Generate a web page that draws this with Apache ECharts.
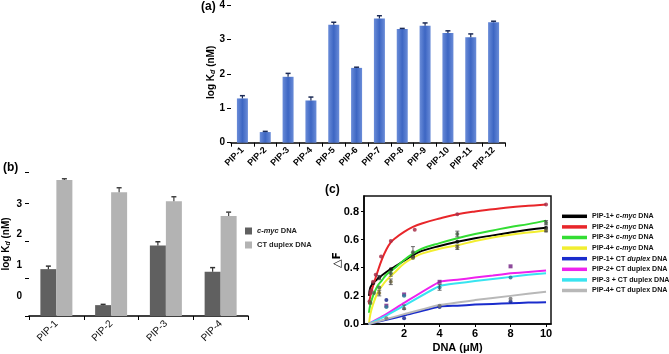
<!DOCTYPE html>
<html>
<head>
<meta charset="utf-8">
<script src="https://cdn.jsdelivr.net/npm/echarts@6.0.0/dist/echarts.min.js"></script>
<style>
  html, body { margin: 0; padding: 0; background: #fff; }
  #chart { width: 669px; height: 354px; }
</style>
</head>
<body>
<div id="chart"></div>
<script>
// panel (a)
const pipA = ["PIP-1", "PIP-2", "PIP-3", "PIP-4", "PIP-5", "PIP-6", "PIP-7", "PIP-8", "PIP-9", "PIP-10", "PIP-11", "PIP-12"];
const kdA = [1.29, 0.31, 1.92, 1.23, 3.44, 2.18, 3.62, 3.31, 3.41, 3.2, 3.07, 3.51];
const kdAErr = [0.08, 0.02, 0.1, 0.1, 0.07, 0.02, 0.08, 0.02, 0.08, 0.06, 0.1, 0.03];

// panel (b)
const pipB = ["PIP-1", "PIP-2", "PIP-3", "PIP-4"];
const mycB = [1.25, 0.29, 1.88, 1.18];
const mycBErr = [0.08, 0.02, 0.1, 0.11];
const ctB = [3.63, 3.3, 3.06, 2.67];
const ctBErr = [0.03, 0.12, 0.12, 0.1];
const tickLabelsB = [0, 1, 2, 3];

// panel (c) fitted curves, [DNA uM, dF]
const fitMyc1 = [[0.02, 0.2], [0.1, 0.26], [0.25, 0.29], [0.5, 0.32], [1, 0.37], [1.5, 0.41], [2, 0.45], [2.5, 0.49], [3, 0.52], [4, 0.555], [5, 0.585], [6, 0.61], [7, 0.63], [8, 0.65], [9, 0.67], [10, 0.685]];
const fitMyc2 = [[0.02, 0.14], [0.1, 0.2], [0.25, 0.27], [0.5, 0.37], [0.75, 0.46], [1, 0.53], [1.25, 0.58], [1.5, 0.61], [2, 0.655], [2.5, 0.69], [3, 0.715], [4, 0.75], [5, 0.78], [6, 0.8], [7, 0.815], [8, 0.83], [9, 0.84], [10, 0.85]];
const fitMyc3 = [[0.02, 0.08], [0.1, 0.14], [0.25, 0.2], [0.5, 0.27], [0.75, 0.31], [1, 0.35], [1.5, 0.4], [2, 0.455], [2.5, 0.5], [3, 0.535], [4, 0.575], [5, 0.61], [6, 0.64], [7, 0.665], [8, 0.69], [9, 0.71], [10, 0.735]];
const fitMyc4 = [[0.02, 0.0], [0.1, 0.07], [0.25, 0.14], [0.5, 0.22], [0.75, 0.27], [1, 0.31], [1.5, 0.37], [2, 0.43], [2.5, 0.47], [3, 0.5], [4, 0.535], [5, 0.56], [6, 0.59], [7, 0.615], [8, 0.635], [9, 0.65], [10, 0.665]];
const fitCt1 = [[0, 0], [1, 0.03], [2, 0.06], [4, 0.125], [5, 0.13], [6, 0.138], [7, 0.143], [8, 0.148], [9, 0.152], [10, 0.155]];
const fitCt2 = [[0, 0], [1, 0.07], [2, 0.15], [4, 0.3], [5, 0.315], [6, 0.33], [7, 0.345], [8, 0.36], [9, 0.37], [10, 0.38]];
const fitCt3 = [[0, 0], [1, 0.06], [2, 0.13], [4, 0.27], [5, 0.29], [6, 0.305], [7, 0.32], [8, 0.335], [9, 0.35], [10, 0.36]];
const fitCt4 = [[0, 0], [1, 0.035], [2, 0.07], [4, 0.135], [6, 0.17], [8, 0.2], [10, 0.23]];

// panel (c) measured points
const ptsMyc1 = [[0.25, 0.29], [0.6, 0.33], [1.25, 0.39], [2.5, 0.48], [5, 0.585], [10, 0.685]];
const ptsMyc2 = [[0.05, 0.16], [0.1, 0.22], [0.15, 0.24], [0.25, 0.3], [0.4, 0.35], [0.7, 0.48], [1.25, 0.59], [2.6, 0.67], [5, 0.78], [10, 0.85]];
const ptsMyc3 = [[0.1, 0.15], [0.3, 0.22], [0.6, 0.26], [1.25, 0.36], [2.5, 0.51], [5, 0.64], [10, 0.72]];
const ptsMyc4 = [[0.6, 0.22], [1.25, 0.3], [2.5, 0.47], [5, 0.545], [10, 0.665]];
const ptsCt1 = [[1, 0.17], [2, 0.04], [4, 0.12], [8, 0.16]];
const ptsCt2 = [[1, 0.13], [2, 0.21], [4, 0.3], [8, 0.41]];
const ptsCt3 = [[1, 0.12], [2, 0.2], [4, 0.26], [8, 0.33]];
const ptsCt4 = [[1, 0.04], [2, 0.11], [4, 0.13], [8, 0.18]];
const errC = [[2.5, 0.51, 0.04], [5, 0.64, 0.02], [10, 0.72, 0.015], [1.25, 0.3, 0.02], [0.6, 0.22, 0.02], [0.6, 0.33, 0.015], [4, 0.26, 0.02], [5, 0.545, 0.015], [1.25, 0.36, 0.02], [2, 0.12, 0.015], [10, 0.665, 0.01]];

const FONT = "Liberation Sans, Arial, sans-serif";

const chart = echarts.init(document.getElementById("chart"));

function upErr(offset, cap, color) {
  return function (params, api) {
    const top = api.coord([api.value(0), api.value(1) + api.value(2)]);
    const base = api.coord([api.value(0), api.value(1)]);
    const x = base[0] + offset;
    return {
      type: "group",
      children: [
        { type: "line", shape: { x1: x, y1: base[1], x2: x, y2: top[1] }, style: { stroke: color, lineWidth: 1.2 } },
        { type: "line", shape: { x1: x - cap, y1: top[1], x2: x + cap, y2: top[1] }, style: { stroke: color, lineWidth: 1.5 } },
      ],
    };
  };
}

function bothErr(params, api) {
  const lo = api.coord([api.value(0), api.value(1) - api.value(2)]);
  const hi = api.coord([api.value(0), api.value(1) + api.value(2)]);
  const x = lo[0];
  const s = { stroke: "#444", lineWidth: 0.8 };
  return {
    type: "group",
    children: [
      { type: "line", shape: { x1: x, y1: lo[1], x2: x, y2: hi[1] }, style: s },
      { type: "line", shape: { x1: x - 2, y1: lo[1], x2: x + 2, y2: lo[1] }, style: s },
      { type: "line", shape: { x1: x - 2, y1: hi[1], x2: x + 2, y2: hi[1] }, style: s },
    ],
  };
}

const axisBlack = { onZero: false, lineStyle: { color: "#000", width: 1.5 } };
const boldLabel = { color: "#000", fontFamily: FONT, fontWeight: "bold" };

const kdName = "log K{d|d} (nM)";
const kdNameStyle = {
  color: "#000", fontFamily: FONT, fontWeight: "bold", fontSize: 10,
  rich: { d: { fontSize: 7, fontStyle: "italic", fontWeight: "bold", fontFamily: FONT, padding: [4, 0, 0, 0] } },
};

const blueBar = {
  type: "linear", x: 0, y: 0, x2: 1, y2: 0,
  colorStops: [
    { offset: 0, color: "#6a8cd8" },
    { offset: 0.5, color: "#3d66c3" },
    { offset: 1, color: "#6a8cd8" },
  ],
};

const curveColors = ["#000000", "#e8262a", "#33dd33", "#f2ee30", "#1a2ccc", "#ee22ee", "#38e4f0", "#b8b8b8"];
const curveNames = ["PIP-1+ c-myc DNA", "PIP-2+ c-myc DNA", "PIP-3+ c-myc DNA", "PIP-4+ c-myc DNA", "PIP-1+ CT duplex DNA", "PIP-2+ CT duplex DNA", "PIP-3 + CT duplex DNA", "PIP-4+ CT duplex DNA"];
const fits = [fitMyc1, fitMyc2, fitMyc3, fitMyc4, fitCt1, fitCt2, fitCt3, fitCt4];
const pts = [ptsMyc1, ptsMyc2, ptsMyc3, ptsMyc4, ptsCt1, ptsCt2, ptsCt3, ptsCt4];
const ptColors = ["#111111", "#a8304a", "#4a6a4a", "#7a7040", "#1a2a90", "#7a2a8a", "#2a7a9a", "#777777"];
const ptSymbols = ["circle", "circle", "circle", "circle", "circle", "rect", "circle", "circle"];

const cSeries = [];
fits.forEach((d, i) => {
  cSeries.push({
    name: curveNames[i], type: "line", xAxisIndex: 2, yAxisIndex: 3,
    data: d, smooth: i < 4 ? 0.4 : 0.15, symbol: "none",
    lineStyle: { color: curveColors[i], width: 2 }, itemStyle: { color: curveColors[i] },
    z: 3,
  });
});
pts.forEach((d, i) => {
  cSeries.push({
    name: "pts" + i, type: "scatter", xAxisIndex: 2, yAxisIndex: 3,
    data: d, symbol: ptSymbols[i], symbolSize: 4,
    itemStyle: { color: ptColors[i], opacity: 0.85 }, z: 4,
  });
});

function legendC(name) {
  if (name.indexOf("c-myc") >= 0) return name.replace("c-myc", "{i|c-myc}");
  if (name === "PIP-1+ CT duplex DNA") return "PIP-1+ CT {i|duplex} DNA";
  return name;
}

chart.setOption({
  animation: false,
  title: [
    { text: "(a)", left: 201, top: 1, padding: 0, textStyle: { fontSize: 12, fontWeight: "bold", fontFamily: FONT, color: "#000" } },
    { text: "(b)", left: 3, top: 162, padding: 0, textStyle: { fontSize: 12, fontWeight: "bold", fontFamily: FONT, color: "#000" } },
    { text: "(c)", left: 325, top: 184, padding: 0, textStyle: { fontSize: 12, fontWeight: "bold", fontFamily: FONT, color: "#000" } },
  ],
  legend: [
    {
      data: ["c-myc DNA", "CT duplex DNA"],
      orient: "vertical", left: 245, top: 227, padding: 0,
      icon: "rect", itemWidth: 7, itemHeight: 7, itemGap: 6,
      selectedMode: false,
      formatter: (n) => (n === "c-myc DNA" ? "{i|c-myc} DNA" : n),
      textStyle: {
        fontSize: 7.5, fontWeight: "bold", fontFamily: FONT, color: "#222",
        rich: { i: { fontSize: 7.5, fontStyle: "italic", fontWeight: "bold", fontFamily: FONT, color: "#222" } },
      },
    },
    {
      data: curveNames,
      orient: "vertical", left: 562, top: 211, padding: 0,
      icon: "rect", itemWidth: 25, itemHeight: 3.5, itemGap: 0,
      selectedMode: false,
      formatter: legendC,
      textStyle: {
        fontSize: 7.1, fontWeight: "bold", fontFamily: FONT, color: "#111", lineHeight: 10.6,
        rich: { i: { fontSize: 7.1, fontStyle: "italic", fontWeight: "bold", fontFamily: FONT, color: "#111", lineHeight: 10.6 } },
      },
    },
  ],
  grid: [
    { left: 231, top: 2, width: 274, height: 140.7, outerBoundsMode: "none" },
    { left: 29, top: 172, width: 219, height: 144, outerBoundsMode: "none" },
    { left: 364, top: 196, width: 187, height: 128, outerBoundsMode: "none", show: true, borderColor: "#111", borderWidth: 1.5, backgroundColor: "transparent" },
  ],
  xAxis: [
    {
      gridIndex: 0, type: "category", data: pipA,
      axisLine: axisBlack, axisTick: { show: true, length: 4, lineStyle: { color: "#000" } },
      axisLabel: Object.assign({ rotate: 45, fontSize: 9, margin: 6, interval: 0 }, boldLabel),
    },
    {
      gridIndex: 1, type: "category", data: pipB,
      axisLine: axisBlack, axisTick: { show: true, length: 4, lineStyle: { color: "#000" } },
      axisLabel: { rotate: 45, fontSize: 10, margin: 6, color: "#111", fontFamily: FONT },
    },
    {
      gridIndex: 2, type: "value", min: -0.26, max: 10.28,
      axisLine: axisBlack,
      axisTick: { show: true, length: 3, customValues: [2, 4, 6, 8, 10], lineStyle: { color: "#000" } },
      axisLabel: Object.assign({ fontSize: 11, margin: 4, customValues: [2, 4, 6, 8, 10] }, boldLabel),
      splitLine: { show: false },
      name: "DNA (μM)", nameLocation: "middle", nameGap: 18, nameMoveOverlap: false,
      nameTextStyle: { fontSize: 11, fontWeight: "bold", fontFamily: FONT, color: "#000" },
    },
  ],
  yAxis: [
    {
      gridIndex: 0, type: "value", min: 0, max: 4.1, interval: 1,
      axisLine: axisBlack,
      axisTick: { show: true, length: 4, lineStyle: { color: "#000" } },
      axisLabel: Object.assign({ fontSize: 10, margin: 6, showMaxLabel: false }, boldLabel),
      splitLine: { show: false },
      name: kdName, nameLocation: "middle", nameGap: 14, nameMoveOverlap: false, nameTextStyle: kdNameStyle,
    },
    {
      gridIndex: 1, type: "value", position: "left", min: 0, max: 3.84, interval: 1,
      axisLine: axisBlack,
      axisTick: { show: true, length: 4, lineStyle: { color: "#000" } },
      axisLabel: { show: false },
      splitLine: { show: false },
      name: kdName, nameLocation: "middle", nameGap: 17, nameMoveOverlap: false, nameTextStyle: kdNameStyle,
    },
    {
      // label ring of panel (b), drawn where the original places its numbers
      gridIndex: 1, type: "value", position: "left", offset: 0, min: -0.652, max: 4.043,
      axisLine: { show: false }, axisTick: { show: false }, splitLine: { show: false },
      axisLabel: Object.assign({ fontSize: 10, margin: 7, customValues: tickLabelsB }, boldLabel),
    },
    {
      gridIndex: 2, type: "value", min: 0, max: 0.91, interval: 0.2,
      axisLine: axisBlack,
      axisTick: { show: true, length: 3, lineStyle: { color: "#000" } },
      axisLabel: Object.assign({ fontSize: 11, margin: 5, showMaxLabel: false, formatter: (v) => v.toFixed(1) }, boldLabel),
      splitLine: { show: false },
      name: "△F", nameLocation: "middle", nameGap: 21, nameMoveOverlap: false,
      nameTextStyle: { fontSize: 11, fontWeight: "bold", fontFamily: "DejaVu Sans, " + FONT, color: "#000" },
    },
  ],
  series: [
    {
      type: "bar", xAxisIndex: 0, yAxisIndex: 0, data: kdA, barWidth: 11,
      itemStyle: { color: blueBar },
    },
    {
      type: "custom", xAxisIndex: 0, yAxisIndex: 0,
      data: kdA.map((v, i) => [i, v, kdAErr[i]]),
      renderItem: upErr(0, 2.5, "#1b2a55"), z: 5,
    },
    {
      name: "c-myc DNA", type: "bar", xAxisIndex: 1, yAxisIndex: 1, data: mycB,
      barWidth: 16, barGap: "0%", itemStyle: { color: "#606060" },
    },
    {
      name: "CT duplex DNA", type: "bar", xAxisIndex: 1, yAxisIndex: 1, data: ctB,
      barWidth: 16, barGap: "0%", itemStyle: { color: "#b3b3b3" },
    },
    {
      type: "custom", xAxisIndex: 1, yAxisIndex: 1,
      data: mycB.map((v, i) => [i, v, mycBErr[i]]),
      renderItem: upErr(-8, 2.5, "#333"), z: 5,
    },
    {
      type: "custom", xAxisIndex: 1, yAxisIndex: 1,
      data: ctB.map((v, i) => [i, v, ctBErr[i]]),
      renderItem: upErr(8, 2.5, "#444"), z: 5,
    },
    {
      type: "custom", xAxisIndex: 2, yAxisIndex: 3, data: errC,
      renderItem: bothErr, z: 5,
    },
  ].concat(cSeries),
});
</script>
</body>
</html>
